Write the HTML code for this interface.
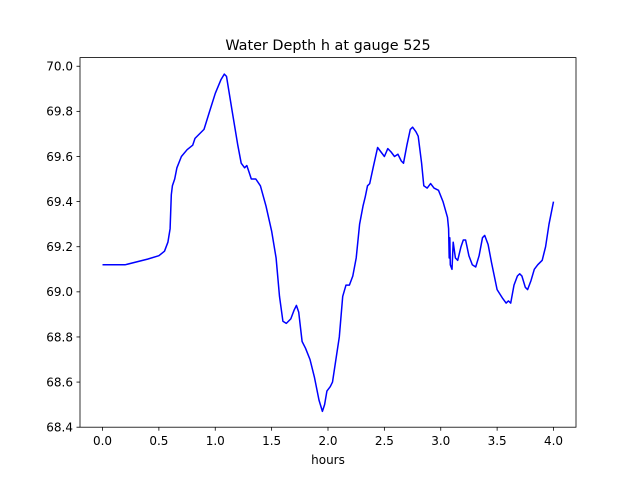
<!DOCTYPE html>
<html><head><meta charset="utf-8"><style>
body{margin:0;background:#fff;}
svg{display:block;font-family:"DejaVu Sans","Liberation Sans",sans-serif;}
</style></head><body>
<svg id="chart" width="640" height="480" viewBox="0 0 640 480">
<rect width="640" height="480" fill="#fff"/>
<text x="328" y="50" font-size="14.4" text-anchor="middle">Water Depth h at gauge 525</text>
<g id="plot"></g>
<rect x="80" y="57.6" width="496" height="369.6" fill="none" stroke="#000" stroke-width="0.8"/>
<text x="328" y="464" font-size="12" text-anchor="middle">hours</text>
</svg>
<script>
const hours=[0,0.2,0.4,0.5,0.55,0.58,0.6,0.61,0.62,0.64,0.66,0.7,0.75,0.8,0.82,0.9,0.95,1.0,1.05,1.08,1.1,1.15,1.2,1.23,1.26,1.28,1.3,1.32,1.36,1.4,1.45,1.5,1.54,1.57,1.6,1.63,1.67,1.7,1.72,1.74,1.77,1.8,1.84,1.88,1.92,1.95,1.97,1.99,2.02,2.04,2.07,2.1,2.13,2.16,2.19,2.22,2.25,2.28,2.31,2.33,2.35,2.37,2.4,2.44,2.47,2.5,2.53,2.56,2.59,2.62,2.65,2.67,2.7,2.73,2.75,2.78,2.8,2.83,2.85,2.88,2.91,2.94,2.98,3.02,3.06,3.07,3.075,3.08,3.085,3.1,3.11,3.13,3.15,3.18,3.2,3.22,3.25,3.28,3.31,3.34,3.37,3.39,3.42,3.45,3.5,3.55,3.58,3.6,3.62,3.65,3.68,3.7,3.72,3.75,3.77,3.8,3.83,3.86,3.9,3.93,3.96,4.0];
const depth=[69.12,69.12,69.145,69.16,69.18,69.22,69.28,69.43,69.47,69.5,69.55,69.6,69.63,69.65,69.68,69.72,69.8,69.88,69.94,69.965,69.955,69.8,69.65,69.57,69.55,69.56,69.53,69.5,69.5,69.47,69.38,69.27,69.15,68.98,68.87,68.86,68.88,68.92,68.94,68.91,68.78,68.75,68.7,68.62,68.52,68.47,68.5,68.56,68.58,68.6,68.7,68.8,68.98,69.03,69.03,69.07,69.15,69.3,69.38,69.42,69.47,69.48,69.55,69.64,69.62,69.6,69.635,69.62,69.6,69.61,69.58,69.57,69.65,69.72,69.73,69.71,69.69,69.57,69.47,69.46,69.48,69.46,69.45,69.4,69.33,69.28,69.15,69.24,69.12,69.1,69.22,69.15,69.14,69.2,69.23,69.23,69.16,69.12,69.11,69.16,69.24,69.25,69.21,69.13,69.01,68.97,68.95,68.96,68.95,69.03,69.07,69.08,69.07,69.02,69.01,69.05,69.1,69.12,69.14,69.2,69.3,69.4];
const xTicks=[0,0.5,1.0,1.5,2.0,2.5,3.0,3.5,4.0];
const xTickLabels=["0.0","0.5","1.0","1.5","2.0","2.5","3.0","3.5","4.0"];
const yTicks=[68.4,68.6,68.8,69.0,69.2,69.4,69.6,69.8,70.0];
const yTickLabels=["68.4","68.6","68.8","69.0","69.2","69.4","69.6","69.8","70.0"];
const NS="http://www.w3.org/2000/svg";
const X=v=>102.5+v*112.75;
const Y=v=>427.2-(v-68.4)*225.6;
const g=document.getElementById('plot');
function mk(t,a){const e=document.createElementNS(NS,t);for(const k in a)e.setAttribute(k,a[k]);return e;}
xTicks.forEach((t,i)=>{
  const l=mk('line',{x1:X(t),x2:X(t),y1:427.2,y2:430.7,stroke:'#000','stroke-width':0.8});
  
  
  g.appendChild(l);
  const tx=mk('text',{x:X(t),y:445,'font-size':12,'text-anchor':'middle'});
  tx.textContent=xTickLabels[i];
  
  
  g.appendChild(tx);
});
yTicks.forEach((t,i)=>{
  const l=mk('line',{x1:76.5,x2:80,y1:Y(t),y2:Y(t),stroke:'#000','stroke-width':0.8});
  
  
  g.appendChild(l);
  const tx=mk('text',{x:73,y:Y(t)+4.3,'font-size':12,'text-anchor':'end'});
  tx.textContent=yTickLabels[i];
  
  
  g.appendChild(tx);
});
const pts=hours.map((h,i)=>X(h).toFixed(1)+','+Y(depth[i]).toFixed(1)).join(' ');
const pl=mk('polyline',{points:pts,fill:'none',stroke:'#0000ff','stroke-width':1.5,'stroke-linejoin':'round'});


g.appendChild(pl);
</script>
</body></html>
